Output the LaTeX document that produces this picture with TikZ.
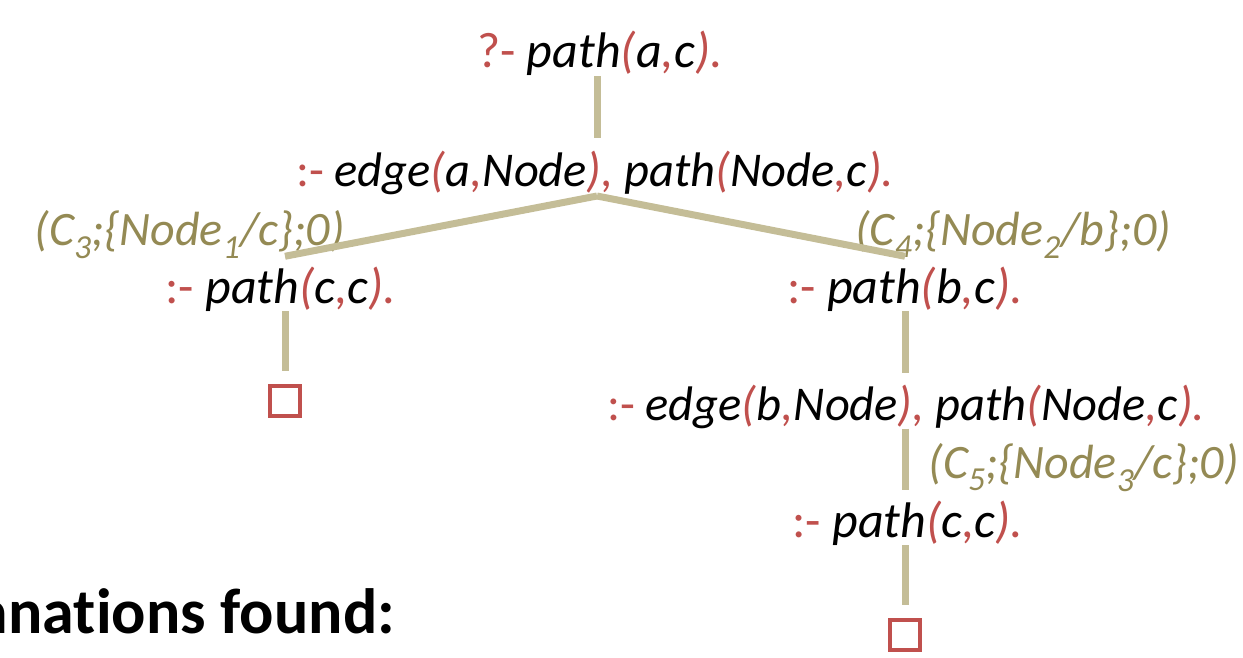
\documentclass[tikz,border=0pt]{standalone}
\usepackage{fontspec}
\setmainfont[Ligatures=NoCommon]{Carlito}
\definecolor{myred}{HTML}{C0504D}
\definecolor{olivetext}{HTML}{948A54}
\definecolor{tanline}{HTML}{C4BD97}
\newcommand\R[1]{\textcolor{myred}{#1}}
\newcommand\Rup[1]{\textcolor{myred}{\upshape #1}}
\begin{document}
\begin{tikzpicture}[x=1pt,y=-1pt,
  goal/.style={font=\fontsize{50}{60}\selectfont\itshape, inner sep=0pt, anchor=base},
  longgoal/.style={goal, font=\fontsize{48.5}{60}\selectfont\itshape},
  subst/.style={font=\fontsize{48}{56}\selectfont\itshape, text=olivetext, inner sep=0pt},
  edgeline/.style={draw=tanline, line width=7pt},
  emptybox/.style={draw=myred, line width=4.5pt, minimum size=30pt, inner sep=0pt}]
\useasboundingbox (0,0) rectangle (1243,658);
\clip (0,0) rectangle (1243,658);

\node[goal] (r) at (600,68) {\Rup{?- }path\R{(}a\R{,}c\R{).}};
\node[longgoal] (n1) at (595,186) {\Rup{:- }edge\R{(}a\R{,}Node\R{),} path\R{(}Node\R{,}c\R{).}};
\node[goal] (c1) at (281,303) {\Rup{:- }path\R{(}c\R{,}c\R{).}};
\node[goal] (c2) at (905,303) {\Rup{:- }path\R{(}b\R{,}c\R{).}};
\node[longgoal] (n3) at (906,420) {\Rup{:- }edge\R{(}b\R{,}Node\R{),} path\R{(}Node\R{,}c\R{).}};
\node[goal] (c3) at (908,537) {\Rup{:- }path\R{(}c\R{,}c\R{).}};

\node[emptybox] (sq1) at (285,401) {};
\node[emptybox] (sq2) at (905,635) {};

\node[subst, anchor=base east] (l1) at (345,245) {(C\textsubscript{3};\{Node\textsubscript{1}/c\};0)};
\node[subst, anchor=base west] (l2) at (855,245) {(C\textsubscript{4};\{Node\textsubscript{2}/b\};0)};
\node[subst, anchor=base east] (l3) at (1239,478) {(C\textsubscript{5};\{Node\textsubscript{3}/c\};0)};

\node[inner sep=0pt, anchor=base east, font=\fontsize{64}{74}\selectfont\bfseries] (found) at (395,633) {Explanations found:};

\coordinate (rootx) at (597,0);
\draw[edgeline] (rootx |- r.south) -- ([yshift=12pt]rootx |- n1.north);
\coordinate (fork) at ([yshift=-10pt]rootx |- n1.base);
\draw[edgeline] (fork) -- ([yshift=10pt]sq1 |- c1.north);
\draw[edgeline] (fork) -- ([yshift=10pt]sq2 |- c2.north);
\draw[edgeline] (sq1 |- c1.south) -- ([yshift=13pt]sq1.north);
\draw[edgeline] (sq2 |- c2.south) -- ([yshift=11pt]sq2 |- n3.north);
\draw[edgeline] (sq2 |- n3.south) -- ([yshift=10pt]sq2 |- c3.north);
\draw[edgeline] (sq2 |- c3.south) -- ([yshift=13pt]sq2.north);
\end{tikzpicture}
\end{document}
